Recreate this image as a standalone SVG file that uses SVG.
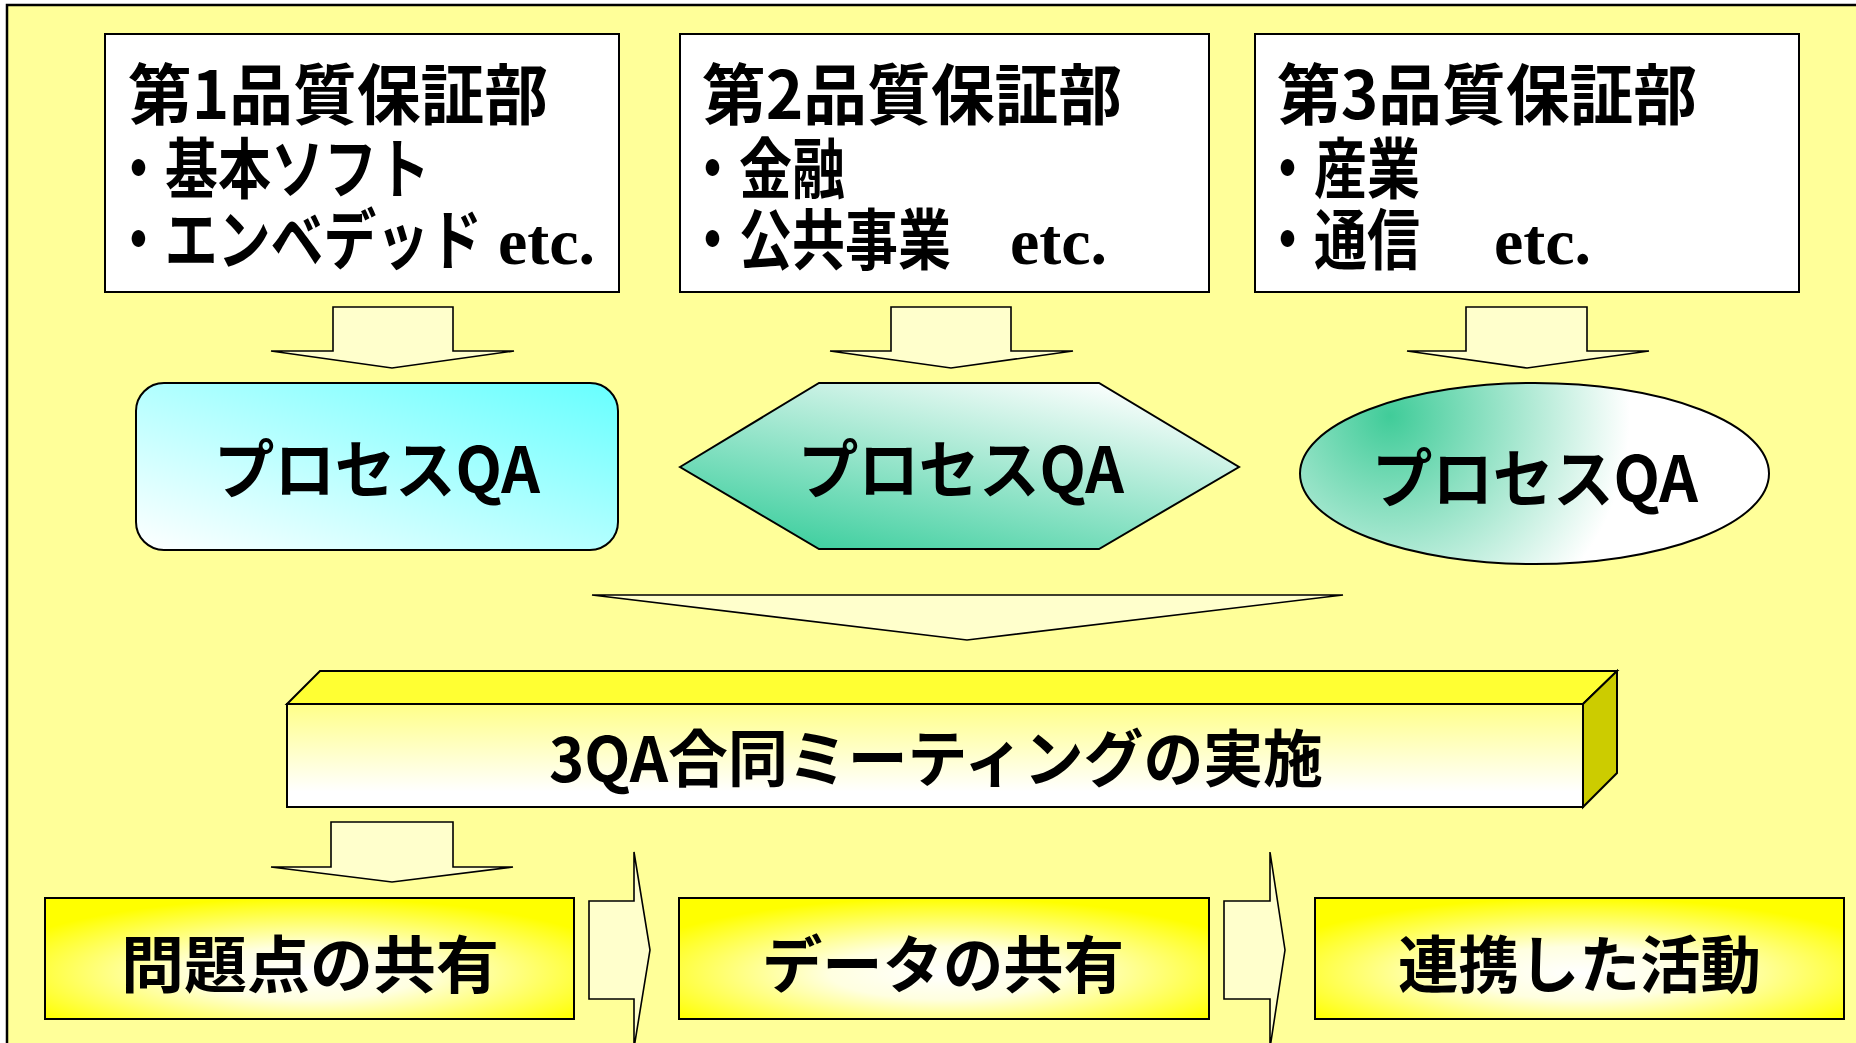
<svg xmlns="http://www.w3.org/2000/svg" width="1856" height="1043" viewBox="0 0 1856 1043">
<style>
.jp{font-family:"Noto Sans CJK JP","Noto Sans CJK SC",sans-serif;font-weight:bold;fill:#000}
.en{font-family:"Liberation Serif","Times New Roman",serif;font-weight:bold;fill:#000}
.box{fill:#fff;stroke:#000;stroke-width:2}
.arr{fill:#FFFFCC;stroke:#000;stroke-width:1.6;stroke-linejoin:miter}
.shape{stroke:#000;stroke-width:2}
</style>
<defs>
<linearGradient id="gCyan" x1="0" y1="1" x2="1" y2="0">
<stop offset="0" stop-color="#FFFFFF"/>
<stop offset="1" stop-color="#66FFFF"/>
</linearGradient>
<linearGradient id="gHex" x1="0.1" y1="1" x2="0.8" y2="0">
<stop offset="0" stop-color="#33CC99"/>
<stop offset="1" stop-color="#FFFFFF"/>
</linearGradient>
<radialGradient id="gEll" gradientUnits="userSpaceOnUse" cx="1390" cy="416" r="240">
<stop offset="0" stop-color="#40CC99"/>
<stop offset="1" stop-color="#FFFFFF"/>
</radialGradient>
<linearGradient id="gFront" x1="0" y1="0" x2="0" y2="1">
<stop offset="0" stop-color="#FFFF88"/>
<stop offset="0.85" stop-color="#FFFFFF"/>
</linearGradient>
<radialGradient id="gYel" cx="0.5" cy="0.62" r="0.62">
<stop offset="0" stop-color="#FFFFFF"/>
<stop offset="0.35" stop-color="#FFFFE0"/>
<stop offset="1" stop-color="#FFFF00"/>
</radialGradient>
</defs>
<rect x="0" y="0" width="1856" height="1043" fill="#FFFFFF"/>
<rect id="frame" x="7" y="5" width="1870" height="1060" fill="#FFFF99" stroke="#000" stroke-width="2.5"/>

<g id="dept1">
<rect class="box" x="105" y="34" width="514" height="258"/>
<text class="jp" x="128" y="119" font-size="66" textLength="420" lengthAdjust="spacingAndGlyphs">第1品質保証部</text>
<text class="jp" x="112" y="193" font-size="66" textLength="318" lengthAdjust="spacingAndGlyphs">・基本ソフト</text>
<text class="jp" x="112" y="264" font-size="66" textLength="370" lengthAdjust="spacingAndGlyphs">・エンベデッド</text>
<text class="en" x="498" y="264" font-size="66">etc.</text>
</g>
<g id="dept2">
<rect class="box" x="680" y="34" width="529" height="258"/>
<text class="jp" x="702" y="119" font-size="66" textLength="420" lengthAdjust="spacingAndGlyphs">第2品質保証部</text>
<text class="jp" x="686" y="193" font-size="66" textLength="159" lengthAdjust="spacingAndGlyphs">・金融</text>
<text class="jp" x="686" y="264" font-size="66" textLength="265" lengthAdjust="spacingAndGlyphs">・公共事業</text>
<text class="en" x="1010" y="264" font-size="66">etc.</text>
</g>
<g id="dept3">
<rect class="box" x="1255" y="34" width="544" height="258"/>
<text class="jp" x="1277" y="119" font-size="66" textLength="420" lengthAdjust="spacingAndGlyphs">第3品質保証部</text>
<text class="jp" x="1261" y="193" font-size="66" textLength="159" lengthAdjust="spacingAndGlyphs">・産業</text>
<text class="jp" x="1261" y="264" font-size="66" textLength="159" lengthAdjust="spacingAndGlyphs">・通信</text>
<text class="en" x="1494" y="264" font-size="66">etc.</text>
</g>

<g id="qa1">
<rect class="shape" x="136" y="383" width="482" height="167" rx="28" ry="28" fill="url(#gCyan)"/>
<text class="jp" x="214" y="493" font-size="64" textLength="326" lengthAdjust="spacingAndGlyphs">プロセスQA</text>
</g>
<g id="qa2">
<polygon class="shape" points="680,467 819,383 1099,383 1239,467 1099,549 819,549" fill="url(#gHex)"/>
<text class="jp" x="798" y="493" font-size="64" textLength="326" lengthAdjust="spacingAndGlyphs">プロセスQA</text>
</g>
<g id="qa3">
<ellipse class="shape" cx="1534.5" cy="473.5" rx="234.5" ry="90.5" fill="url(#gEll)"/>
<text class="jp" x="1372" y="502" font-size="64" textLength="326" lengthAdjust="spacingAndGlyphs">プロセスQA</text>
</g>

<g id="meeting">
<polygon points="287,704 320,671 1617,671 1583,704" fill="#FFFF33" stroke="#000" stroke-width="2"/>
<polygon points="1583,704 1617,671 1617,773 1583,807" fill="#CCCC00" stroke="#000" stroke-width="2"/>
<rect x="287" y="704" width="1296" height="103" fill="url(#gFront)" stroke="#000" stroke-width="2"/>
<text class="jp" x="549" y="782" font-size="62" textLength="774" lengthAdjust="spacingAndGlyphs">3QA合同ミーティングの実施</text>
</g>

<g id="share1">
<rect x="45" y="898" width="529" height="121" fill="url(#gYel)" stroke="#000" stroke-width="2"/>
<text class="jp" x="121" y="988" font-size="62" textLength="378" lengthAdjust="spacingAndGlyphs">問題点の共有</text>
</g>
<g id="share2">
<rect x="679" y="898" width="530" height="121" fill="url(#gYel)" stroke="#000" stroke-width="2"/>
<text class="jp" x="762" y="988" font-size="62" textLength="362" lengthAdjust="spacingAndGlyphs">データの共有</text>
</g>
<g id="share3">
<rect x="1315" y="898" width="529" height="121" fill="url(#gYel)" stroke="#000" stroke-width="2"/>
<text class="jp" x="1398" y="988" font-size="62" textLength="363" lengthAdjust="spacingAndGlyphs">連携した活動</text>
</g>

<g id="connectors">
<path class="arr" d="M333,307 H453 V351 H514 L392,368 L271,351 H333 Z"/>
<path class="arr" d="M891,307 H1011 V351 H1073 L951,368 L830,351 H891 Z"/>
<path class="arr" d="M1466,307 H1587 V351 H1649 L1527,368 L1407,351 H1466 Z"/>
<path class="arr" d="M592,595 H1343 L967,640 Z"/>
<path class="arr" d="M331,822 H453 V867 H513 L392,882 L271,867 H331 Z"/>
<path class="arr" d="M589,901 H634 V852 L650,950 L634,1048 V999 H589 Z"/>
<path class="arr" d="M1224,901 H1270 V852 L1285,950 L1270,1048 V999 H1224 Z"/>
</g>
</svg>
